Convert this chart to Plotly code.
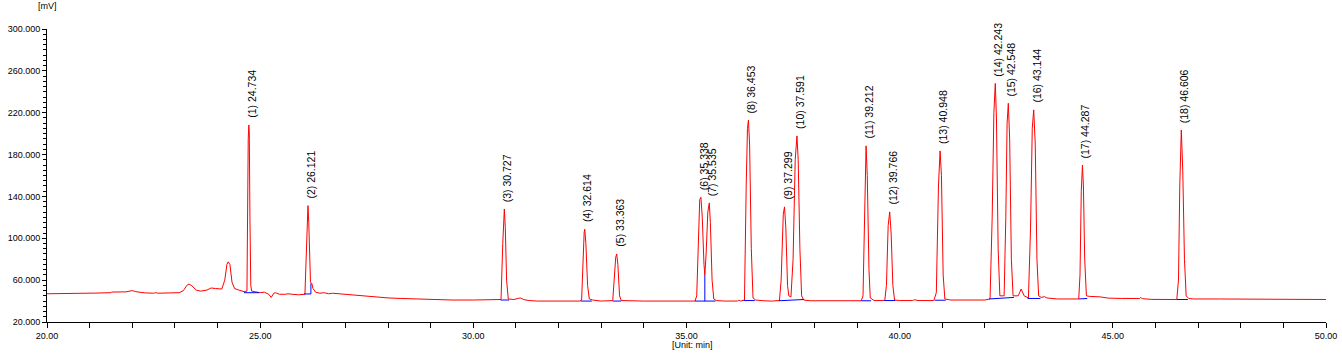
import plotly.graph_objects as go

# ---- chromatogram trace (min, mV) ----
trace_time = [
    20.00, 20.75, 20.78, 20.82, 21.05, 21.10, 21.50, 21.52, 21.85, 22.00, 22.08, 22.30, 22.50, 22.55, 22.60,
    22.90, 23.10, 23.20, 23.28, 23.33, 23.40, 23.50, 23.60, 23.75, 23.85, 23.95, 24.10, 24.17, 24.22, 24.25,
    24.29, 24.34, 24.40, 24.50, 24.62, 24.69, 24.70, 24.72, 24.734, 24.745, 24.76, 24.78, 24.80, 24.90, 25.00,
    25.10, 25.20, 25.26, 25.32, 25.36, 25.45, 25.60, 25.65, 25.75, 25.90, 26.05, 26.08, 26.10, 26.121, 26.14,
    26.16, 26.18, 26.21, 26.24, 26.30, 26.40, 26.50, 26.60, 26.70, 26.85, 27.00, 27.20, 27.40, 27.60, 27.80,
    28.00, 28.30, 28.60, 29.00, 29.50, 30.00, 30.55, 30.65, 30.69, 30.71, 30.727, 30.75, 30.78, 30.82, 30.95,
    31.05, 31.10, 31.18, 31.30, 31.50, 32.50, 32.54, 32.58, 32.60, 32.614, 32.64, 32.68, 32.72, 32.80, 33.00,
    33.27, 33.31, 33.34, 33.363, 33.39, 33.43, 33.47, 34.00, 35.20, 35.24, 35.28, 35.31, 35.338, 35.37, 35.41,
    35.43, 35.46, 35.50, 35.535, 35.56, 35.60, 35.64, 35.70, 35.90, 36.20, 36.22, 36.27, 36.36, 36.40, 36.43,
    36.453, 36.48, 36.52, 36.56, 36.62, 36.75, 36.80, 37.00, 37.18, 37.22, 37.27, 37.299, 37.33, 37.37, 37.40,
    37.45, 37.50, 37.55, 37.591, 37.62, 37.66, 37.70, 37.75, 37.90, 39.10, 39.14, 39.18, 39.212, 39.24, 39.28,
    39.31, 39.40, 39.65, 39.69, 39.73, 39.766, 39.80, 39.84, 39.88, 40.00, 40.30, 40.35, 40.43, 40.80, 40.86,
    40.91, 40.948, 40.98, 41.02, 41.06, 41.20, 41.50, 41.60, 41.70, 41.90, 42.00, 42.12, 42.17, 42.21, 42.243,
    42.27, 42.31, 42.35, 42.45, 42.49, 42.52, 42.548, 42.58, 42.62, 42.66, 42.78, 42.85, 42.92, 43.02, 43.07,
    43.11, 43.144, 43.18, 43.22, 43.26, 43.32, 43.40, 43.45, 43.60, 43.70, 44.20, 44.23, 44.26, 44.287, 44.31,
    44.34, 44.38, 44.45, 44.70, 44.80, 44.90, 45.20, 45.50, 45.63, 45.65, 45.70, 45.90, 46.05, 46.50, 46.54,
    46.57, 46.606, 46.64, 46.68, 46.72, 46.78, 46.90, 47.50, 48.00, 48.50, 49.00, 49.50, 50.00,
]
trace_mv = [
    47.0, 47.0, 47.4, 47.0, 47.0, 47.6, 48.0, 48.6, 48.8, 50.0, 49.0, 47.8, 47.5, 48.0, 47.5,
    47.6, 48.0, 50.0, 55.0, 56.3, 54.5, 50.5, 49.5, 50.5, 52.5, 52.0, 51.5, 60.0, 75.0, 77.5,
    75.0, 58.0, 52.0, 50.5, 49.0, 49.5, 110.0, 195.0, 208.3, 200.0, 120.0, 55.0, 49.5, 48.5, 48.0,
    48.5, 46.5, 43.5, 47.5, 48.0, 46.5, 46.5, 47.0, 46.5, 46.0, 46.5, 90.0, 125.0, 131.2, 115.0,
    70.0, 58.0, 57.0, 52.0, 48.5, 47.5, 48.0, 47.0, 47.5, 47.0, 46.0, 45.5, 44.5, 44.0, 43.5,
    43.0, 42.5, 42.0, 41.5, 41.0, 41.0, 41.5, 41.5, 95.0, 122.0, 128.0, 110.0, 60.0, 42.0, 41.5,
    42.5, 43.0, 41.5, 40.5, 40.0, 40.0, 41.0, 95.0, 106.0, 108.6, 95.0, 55.0, 42.0, 41.0, 40.0,
    40.5, 65.0, 82.0, 85.0, 75.0, 45.0, 40.5, 40.0, 40.0, 45.0, 115.0, 137.0, 139.2, 120.0, 75.0,
    65.0, 85.0, 125.0, 133.8, 115.0, 60.0, 42.0, 40.5, 40.0, 40.0, 40.8, 40.0, 41.0, 150.0, 205.0,
    213.0, 190.0, 90.0, 43.0, 41.0, 41.0, 40.3, 40.0, 40.5, 60.0, 123.0, 130.0, 110.0, 55.0, 45.0,
    44.0, 80.0, 175.0, 197.8, 175.0, 90.0, 45.0, 41.0, 40.3, 40.3, 45.0, 150.0, 188.3, 160.0, 70.0,
    43.0, 40.5, 40.5, 55.0, 112.0, 125.2, 105.0, 55.0, 41.0, 40.5, 40.5, 41.3, 40.5, 40.5, 48.0,
    150.0, 183.5, 160.0, 65.0, 42.0, 41.0, 40.8, 41.3, 40.8, 40.8, 41.0, 42.0, 120.0, 220.0, 248.0,
    215.0, 90.0, 45.0, 45.0, 120.0, 210.0, 229.0, 195.0, 80.0, 45.0, 45.0, 51.5, 45.0, 43.0, 110.0,
    205.0, 222.7, 190.0, 80.0, 45.0, 43.5, 44.2, 43.0, 42.5, 42.0, 42.0, 65.0, 145.0, 170.0, 150.0,
    80.0, 45.0, 44.5, 44.0, 43.2, 42.8, 42.5, 42.3, 42.5, 43.3, 42.3, 41.6, 41.5, 41.5, 60.0,
    150.0, 203.5, 165.0, 80.0, 45.0, 42.5, 42.0, 42.0, 42.0, 41.8, 41.5, 41.5, 41.5,
]

# ---- peak table ----
peak_no = list(range(1, 19))
peak_rt = [24.734, 26.121, 30.727, 32.614, 33.363, 35.338, 35.535, 36.453, 37.299,
           37.591, 39.212, 39.766, 40.948, 42.243, 42.548, 43.144, 44.287, 46.606]
peak_height = [208.3, 131.2, 128.0, 108.6, 85.0, 139.2, 133.8, 213.0, 130.0,
               197.8, 188.3, 125.2, 183.5, 248.0, 229.0, 222.7, 170.0, 203.5]

# ---- integration baselines (start, end, level at start, level at end) ----
base_start = [24.62, 26.03, 30.64, 32.52, 33.27, 35.20, 36.34, 37.17, 39.10, 39.64, 40.82, 42.10, 43.00, 44.20, 46.50]
base_end = [24.98, 26.19, 30.84, 32.78, 33.47, 35.68, 36.60, 37.75, 39.33, 39.90, 41.08, 42.68, 43.30, 44.40, 46.76]
base_lvl0 = [48.0, 46.8, 41.0, 40.0, 40.0, 40.0, 40.5, 40.3, 40.3, 40.5, 40.8, 42.0, 42.5, 42.0, 41.5]
base_lvl1 = [48.0, 46.8, 41.0, 40.0, 40.0, 40.0, 40.5, 41.5, 40.3, 40.5, 40.8, 43.5, 42.5, 42.5, 41.5]
drop_time = [26.19, 35.43]
drop_bottom = [46.8, 40.0]
drop_top = [57.0, 65.0]

bx, by = [], []
for s, e, a, b in zip(base_start, base_end, base_lvl0, base_lvl1):
    bx += [s, e, None]
    by += [a, b, None]
for t, lo, hi in zip(drop_time, drop_bottom, drop_top):
    bx += [t, t, None]
    by += [lo, hi, None]

FONT = "Liberation Sans, Arial, sans-serif"

fig = go.Figure()
fig.add_trace(go.Scatter(x=trace_time, y=trace_mv, mode="lines",
                         line=dict(color="#ff0000", width=1), hoverinfo="skip"))
fig.add_trace(go.Scatter(x=bx, y=by, mode="lines",
                         line=dict(color="#0000ff", width=1), hoverinfo="skip"))

for n, rt, h in zip(peak_no, peak_rt, peak_height):
    fig.add_annotation(x=rt, y=h, text=f"({n}) {rt:.3f}", showarrow=False,
                       textangle=-90, xanchor="center", yanchor="bottom",
                       xshift=3, yshift=5,
                       font=dict(family=FONT, size=10.5, color="#000000"))

fig.add_annotation(xref="paper", yref="paper", x=0.0, y=1.078, text="[mV]",
                   showarrow=False, xanchor="center", yanchor="middle",
                   font=dict(family=FONT, size=9, color="#000000"))
fig.add_annotation(xref="paper", yref="paper", x=0.505, y=-0.08, text="[Unit: min]",
                   showarrow=False, xanchor="center", yanchor="middle",
                   font=dict(family=FONT, size=9, color="#000000"))

fig.update_layout(
    width=1342, height=353,
    margin=dict(l=47, r=16, t=29, b=31, autoexpand=False),
    paper_bgcolor="white", plot_bgcolor="white",
    showlegend=False,
    font=dict(family=FONT, size=9, color="#000000"),
    xaxis=dict(range=[20, 50], dtick=5, tickformat=".2f", showgrid=False, zeroline=False,
               automargin=False,
               showline=True, linecolor="#000000", linewidth=1,
               ticks="outside", ticklen=5, tickcolor="#000000",
               minor=dict(dtick=1, ticks="outside", ticklen=5, tickcolor="#000000", showgrid=False),
               tickfont=dict(family=FONT, size=9, color="#000000")),
    yaxis=dict(range=[20, 300], dtick=40, tick0=20, tickformat=".3f", showgrid=False, zeroline=False,
               automargin=False,
               showline=True, linecolor="#000000", linewidth=1,
               ticks="outside", ticklen=4, tickcolor="#000000",
               minor=dict(dtick=5, ticks="outside", ticklen=3, tickcolor="#000000", showgrid=False),
               tickfont=dict(family=FONT, size=9, color="#000000")),
)

fig.write_html("out.html")
